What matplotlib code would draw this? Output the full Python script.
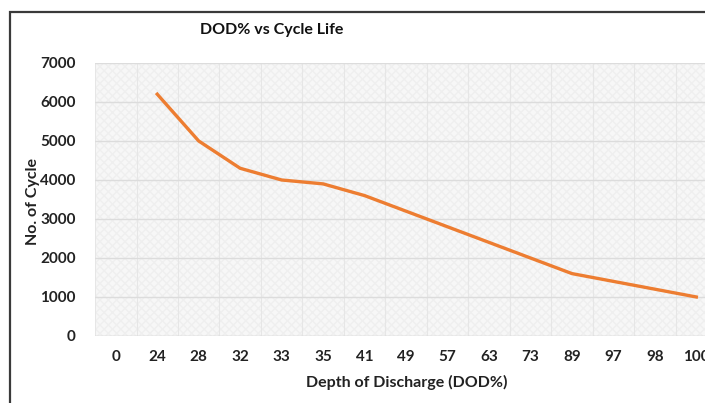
import numpy as np
import matplotlib.pyplot as plt
from matplotlib.patches import Rectangle

# Данные графика
dod_labels = ["0", "24", "28", "32", "33", "35", "41", "49", "57", "63", "73", "89", "97", "98", "100"]
cycles = [np.nan, 6200, 5000, 4300, 4000, 3900, 3600, 3200, 2800, 2400, 2000, 1600, 1400, 1200, 1000]

plt.rcParams['font.family'] = ['Lato', 'DejaVu Sans']

fig = plt.figure(figsize=(7.05, 4.03), dpi=100)
fig.patch.set_facecolor('white')

# рамка диаграммы (обрезана справа и снизу)
fig.patches.append(Rectangle((0.0142, -0.1), 1.2, 1.07, transform=fig.transFigure,
                             fill=False, edgecolor='#3a3a3a', linewidth=1.6))

ax = fig.add_axes([0.1348, 0.1663, 0.8823, 0.6774])
ax.set_facecolor('#f7f7f7')
# лёгкая текстура фона
ax.add_patch(Rectangle((0, 0), 1, 1, transform=ax.transAxes, fill=False,
                       hatch='xxxx', edgecolor='#efefef', linewidth=0, zorder=0))

x = np.arange(len(dod_labels))
ax.plot(x, cycles, color='#ED7D31', linewidth=2.4, zorder=3)

ax.set_xlim(-0.5, len(dod_labels) - 0.5)
ax.set_ylim(0, 7000)
ax.set_yticks(range(0, 7001, 1000))
ax.set_xticks(x)
ax.set_xticklabels(dod_labels)

ax.grid(axis='y', color='#dcdcdc', linewidth=1)
ax.set_xticks(np.arange(-0.5, len(dod_labels)), minor=True)
ax.grid(axis='x', which='minor', color='#e6e6e6', linewidth=0.8)
ax.tick_params(axis='both', which='both', length=0)
ax.tick_params(axis='x', pad=10)
ax.tick_params(axis='y', pad=14)
for s in ax.spines.values():
    s.set_visible(False)
ax.axhline(0, color='#d9d9d9', linewidth=1)

for lab in ax.get_xticklabels() + ax.get_yticklabels():
    lab.set_fontweight('bold')
    lab.set_fontsize(11)
    lab.set_color('#222222')

fig.text(0.386, 0.925, "DOD% vs Cycle Life", ha='center', va='center',
         fontsize=11.5, fontweight='bold', color='#111111')
fig.text(0.577, 0.05, "Depth of Discharge (DOD%)", ha='center', va='center',
         fontsize=11.5, fontweight='bold', color='#222222')
fig.text(0.047, 0.50, "No. of Cycle", ha='center', va='center', rotation=90,
         fontsize=11.5, fontweight='bold', color='#222222')

fig.savefig("out.png", dpi=100)
